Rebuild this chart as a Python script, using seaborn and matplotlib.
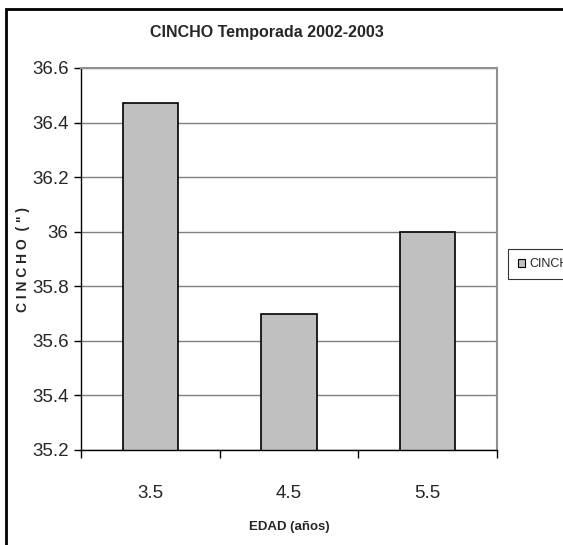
import matplotlib
matplotlib.use("Agg")
import matplotlib.pyplot as plt
import seaborn as sns
import pandas as pd
from matplotlib.patches import Rectangle, Patch
from matplotlib.ticker import FixedLocator

categories = ["3.5", "4.5", "5.5"]
values = [36.47, 35.70, 36.00]
y_ticks = [35.2, 35.4, 35.6, 35.8, 36.0, 36.2, 36.4, 36.6]
y_tick_labels = ["35.2", "35.4", "35.6", "35.8", "36", "36.2", "36.4", "36.6"]
series_name = "CINCHO"

sns.set_theme(style="white")
FONT = ["Liberation Sans Narrow", "Liberation Sans", "DejaVu Sans"]
plt.rcParams["font.family"] = FONT

df = pd.DataFrame({"edad": categories, "cincho": values})

fig = plt.figure(figsize=(5.63, 5.45), dpi=100)
ax = fig.add_axes([81/563, 1 - 450/545, (497-81)/563, (450-68)/545])

sns.barplot(data=df, x="edad", y="cincho", color="#c0c0c0", width=0.4,
            edgecolor="black", linewidth=1.2, ax=ax, saturation=1)

ax.set_ylim(35.2, 36.6)
ax.set_xlim(-0.5, 2.5)
ax.set_yticks(y_ticks)
ax.set_yticklabels(y_tick_labels)
ax.yaxis.grid(True, color="#808080", linewidth=1)
ax.set_axisbelow(True)

for s in ["top", "right"]:
    ax.spines[s].set_color("#909090")
    ax.spines[s].set_linewidth(1.5)
for s in ["left", "bottom"]:
    ax.spines[s].set_color("black")
    ax.spines[s].set_linewidth(1)

ax.tick_params(axis="y", which="major", left=True, direction="out", length=5,
               width=1, color="black", labelsize=13.5, pad=4)
ax.tick_params(axis="x", which="major", bottom=False, labelsize=13.5, pad=19)
ax.xaxis.set_minor_locator(FixedLocator([-0.5, 0.5, 1.5, 2.5]))
ax.tick_params(axis="x", which="minor", bottom=True, direction="out", length=6,
               width=1, color="black")

ax.set_xlabel("EDAD (años)", fontsize=9.5, fontweight="bold")
ax.xaxis.set_label_coords(0.5, -(527 - 450) / 382, transform=ax.transAxes)
ax.xaxis.label.set_va("center")
ax.set_ylabel("C I N C H O  ( \" )", fontsize=10, fontweight="bold")
ax.yaxis.set_label_coords((23 - 81) / 416, (450 - 260) / 382, transform=ax.transAxes)
ax.yaxis.label.set_va("center")

fig.text(267/563, 1 - 33/545, "CINCHO Temporada 2002-2003", ha="center", va="center",
         fontsize=11.5, fontweight="bold")

handle = Patch(facecolor="#c0c0c0", edgecolor="black", linewidth=0.8)
leg = fig.legend([handle], [series_name], loc="center left",
                 bbox_to_anchor=(502/563, 1 - 264/545), frameon=True, fontsize=9,
                 handlelength=0.6, handleheight=0.6, handletextpad=0.3,
                 borderpad=0.75, fancybox=False)
leg.get_frame().set_edgecolor("black")
leg.get_frame().set_linewidth(0.8)

fig.patches.append(Rectangle((6/563, -0.02), 1.0, 1 - 9/545 + 0.02,
                             transform=fig.transFigure, fill=False,
                             edgecolor="black", linewidth=2))

fig.savefig("out.png", dpi=100)
